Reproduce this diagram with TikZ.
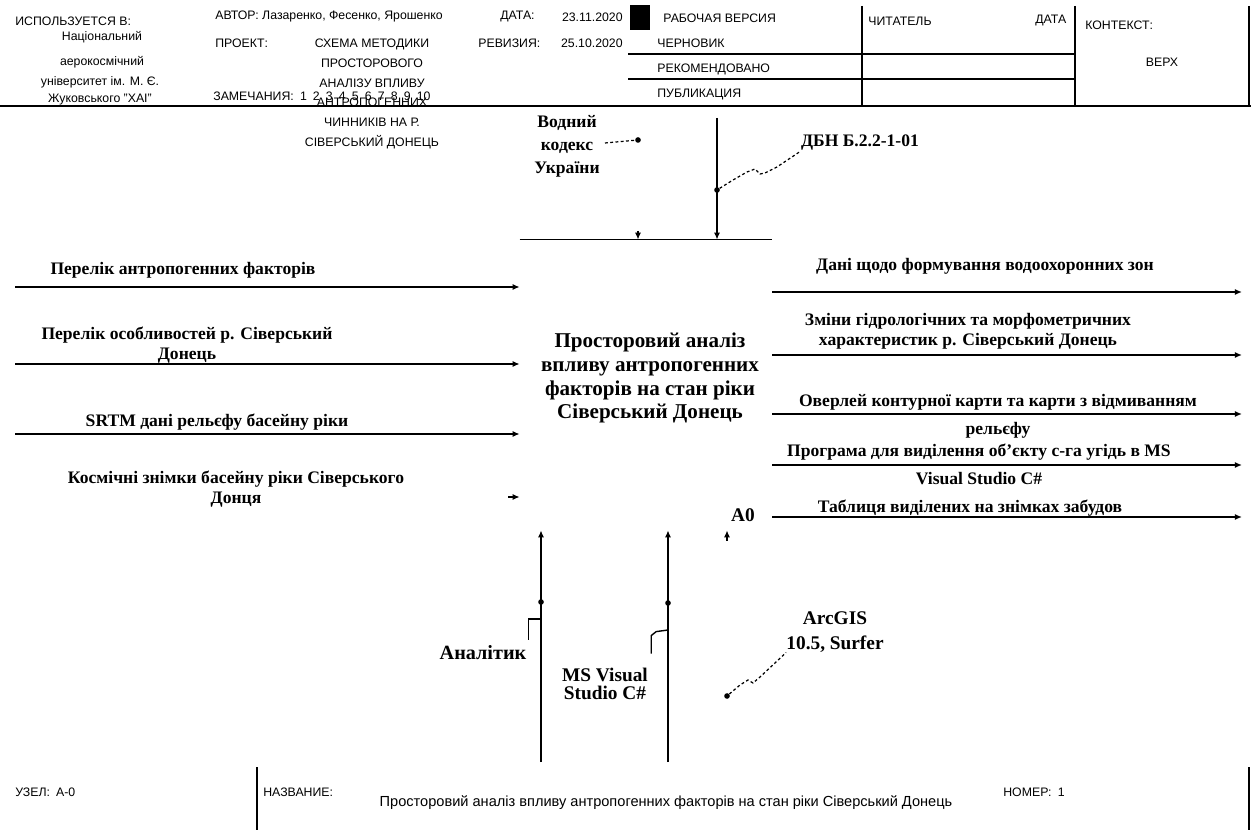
\documentclass[tikz,border=0pt]{standalone}
\usepackage{fontspec}
\setmainfont{Liberation Serif}
\setsansfont{Liberation Sans}
\usetikzlibrary{arrows.meta,positioning}

\begin{document}
\begin{tikzpicture}[x=0.02cm,y=-0.02cm,
  hdr/.style={font=\sffamily\fontsize{7}{8}\selectfont,inner sep=0pt},
  lbl/.style={font=\bfseries\fontsize{10}{11.5}\selectfont,align=center,inner sep=0pt},
  arr/.style={line width=0.9pt,-{Latex[length=4pt,width=3.4pt]}},
  squig/.style={line width=0.7pt,dash pattern=on 1.6pt off 1.4pt},
  hook/.style={line width=0.8pt},
  jdot/.style={circle,fill,inner sep=0pt,minimum size=3.2pt}]
\useasboundingbox (0,0) rectangle (1251,830);

% header
\draw[line width=1.3pt] (0,106) -- (1251,106);
\draw[line width=0.9pt] (862,6) -- (862,106) (1075,6) -- (1075,106) (1249,6) -- (1249,106);
\draw[line width=0.9pt] (628,54) -- (1075,54) (628,79) -- (1075,79);
\fill (630,5) rectangle (650,30);
\node[hdr,anchor=west] (usedat) at (15,21) {ИСПОЛЬЗУЕТСЯ В:};
\node[hdr] (org1) at (102,37) {Національний};
\node[hdr] (org2) at (102,62) {аерокосмічний};
\node[hdr] (org3) at (100,82) {університет ім. М. Є.};
\node[hdr] (org4) at (100,100) {Жуковського "ХАІ"};
\node[hdr,anchor=west] (author) at (215,16) {АВТОР: Лазаренко, Фесенко, Ярошенко};
\node[hdr,anchor=west] (datek) at (500,17) {ДАТА:};
\node[hdr,anchor=east] (datev) at (623,17) {23.11.2020};
\node[hdr,anchor=west] (proj) at (215,43) {ПРОЕКТ:};
\node[hdr,align=center] (projname) at (372,94) {СХЕМА МЕТОДИКИ\\[3.3pt]ПРОСТОРОВОГО\\[3.3pt]АНАЛІЗУ ВПЛИВУ\\[3.3pt]АНТРОПОГЕННИХ\\[3.3pt]ЧИННИКІВ НА Р.\\[3.3pt]СІВЕРСЬКИЙ ДОНЕЦЬ};
\node[hdr,anchor=west] (notes) at (213,96) {ЗАМЕЧАНИЯ:\enspace 1\enspace 2\enspace 3\enspace 4\enspace 5\enspace 6\enspace 7\enspace 8\enspace 9\enspace 10};
\node[hdr,anchor=west] (revk) at (478,43) {РЕВИЗИЯ:};
\node[hdr,anchor=east] (revv) at (623,43) {25.10.2020};
\node[hdr,anchor=west] (working) at (663,18) {РАБОЧАЯ ВЕРСИЯ};
\node[hdr,anchor=west] (draft) at (657,43) {ЧЕРНОВИК};
\node[hdr,anchor=west] (recom) at (657,69) {РЕКОМЕНДОВАНО};
\node[hdr,anchor=west] (publ) at (657,95) {ПУБЛИКАЦИЯ};
\node[hdr,anchor=west] (reader) at (868,21) {ЧИТАТЕЛЬ};
\node[hdr,anchor=west] (rdate) at (1035,21) {ДАТА};
\node[hdr,anchor=west] (context) at (1085,25) {КОНТЕКСТ:};
\node[hdr] (top) at (1162,62) {ВЕРХ};

% activity box
\node[minimum width=5.04cm,minimum height=5.8cm,inner sep=0pt] (act) at (646,385) {};
\draw[line width=0.9pt] (act.north west) -- (act.north east);
\node[font=\bfseries\fontsize{12}{13.6}\selectfont,align=center,inner sep=0pt] (actname) at (650,378)
  {Просторовий аналіз\\впливу антропогенних\\факторів на стан ріки\\Сіверський Донець};
\node[font=\bfseries\fontsize{11}{13}\selectfont,inner sep=0pt] (anum) at (743,515) {A0};

% inputs
\coordinate (i1) at (15,287);
\coordinate (i2) at (15,364);
\coordinate (i3) at (15,434);
\coordinate (i4) at (508,497);
\draw[arr] (i1) -- (i1 -| act.west);
\draw[arr] (i2) -- (i2 -| act.west);
\draw[arr] (i3) -- (i3 -| act.west);
\draw[arr] (i4) -- (i4 -| act.west);
\node[lbl] (i1lab) at (183,270) {Перелік антропогенних факторів};
\node[lbl] (i2lab) at (187,345) {Перелік особливостей р. Сіверський\\Донець};
\node[lbl] (i3lab) at (217,422) {SRTM дані рельєфу басейну ріки};
\node[lbl] (i4lab) at (236,489) {Космічні знімки басейну ріки Сіверського\\Донця};

% outputs
\coordinate (o1) at (1242,292);
\coordinate (o2) at (1242,355);
\coordinate (o3) at (1242,414);
\coordinate (o4) at (1242,465);
\coordinate (o5) at (1242,517);
\draw[arr] (o1 -| act.east) -- (o1);
\draw[arr] (o2 -| act.east) -- (o2);
\draw[arr] (o3 -| act.east) -- (o3);
\draw[arr] (o4 -| act.east) -- (o4);
\draw[arr] (o5 -| act.east) -- (o5);
\node[lbl] (o1lab) at (985,266) {Дані щодо формування водоохоронних зон};
\node[lbl] (o2lab) at (968,331) {Зміни гідрологічних та морфометричних\\характеристик р. Сіверський Донець};
\node[lbl] (o3lab) at (998,416) {Оверлей контурної карти та карти з відмиванням\\[4.5pt]рельєфу};
\node[lbl] (o4lab) at (979,464) {Програма для виділення об'єкту с-га угідь в MS\\[4.5pt]Visual Studio C\#};
\node[lbl] (o5lab) at (970,508) {Таблиця виділених на знімках забудов};

% controls
\coordinate (c1) at (638,231);
\coordinate (c2) at (717,118);
\draw[arr] (c1) -- (c1 |- act.north);
\draw[arr] (c2) -- (c2 |- act.north);
\node[lbl,font=\bfseries\fontsize{10}{13}\selectfont] (c1lab) at (567,146) {Водний\\кодекс\\України};
\node[lbl] (c2lab) at (860,143) {ДБН Б.2.2-1-01};
\node[jdot] (c1dot) at (638,140) {};
\node[jdot] (c2dot) at (717,190) {};
\draw[squig] (c1lab.east) ++(5,-3) -- (c1dot);
\draw[squig] (c2dot) -- (733,180) -- (747,172) -- (755,169) -- (760,174) -- (765,173) -- (777,167) -- (c2lab.south west);

% mechanisms
\coordinate (m1) at (541,762);
\coordinate (m2) at (668,762);
\coordinate (m3) at (727,541);
\draw[arr] (m1) -- (m1 |- act.south);
\draw[arr] (m2) -- (m2 |- act.south);
\draw[arr] (m3) -- (m3 |- act.south);
\node[jdot] (m1dot) at (541,602) {};
\node[jdot] (m2dot) at (668,603) {};
\node[lbl,font=\bfseries\fontsize{11.5}{13}\selectfont] (m1lab) at (483,653) {Аналітик};
\node[lbl,font=\bfseries\fontsize{11}{10.5}\selectfont] (m2lab) at (605,684) {MS Visual\\Studio C\#};
\node[lbl,font=\bfseries\fontsize{11}{14}\selectfont] (m3lab) at (835,632) {ArcGIS\\10.5, Surfer};
\draw[hook] (m1lab.east) ++(2,-13) -- ++(0,-21) -- (m1 |- 0,619);
\draw[hook] (m2lab.north east) ++(3,-14) -- ++(0,-18) -- ++(5,-4) -- (m2 |- 0,630);
\node[jdot] (m3dot) at (727,696) {};
\draw[squig] (m3dot) -- (740,685) -- (748,680) -- (753,683) -- (760,677) -- (m3lab.south west);

% footer
\draw[line width=0.9pt] (257,767) -- (257,830);
\draw[line width=0.9pt] (1249,767) -- (1249,830);
\node[hdr,anchor=west] (nodeno) at (15,792) {УЗЕЛ:\enspace A-0};
\node[hdr,anchor=west] (titlek) at (263,792) {НАЗВАНИЕ:};
\node[font=\sffamily\fontsize{8.3}{10}\selectfont,inner sep=0pt] (titlev) at (666,803) {Просторовий аналіз впливу антропогенних факторів на стан ріки Сіверський Донець};
\node[hdr,anchor=west] (number) at (1003,792) {НОМЕР:\enspace 1};
\end{tikzpicture}
\end{document}
